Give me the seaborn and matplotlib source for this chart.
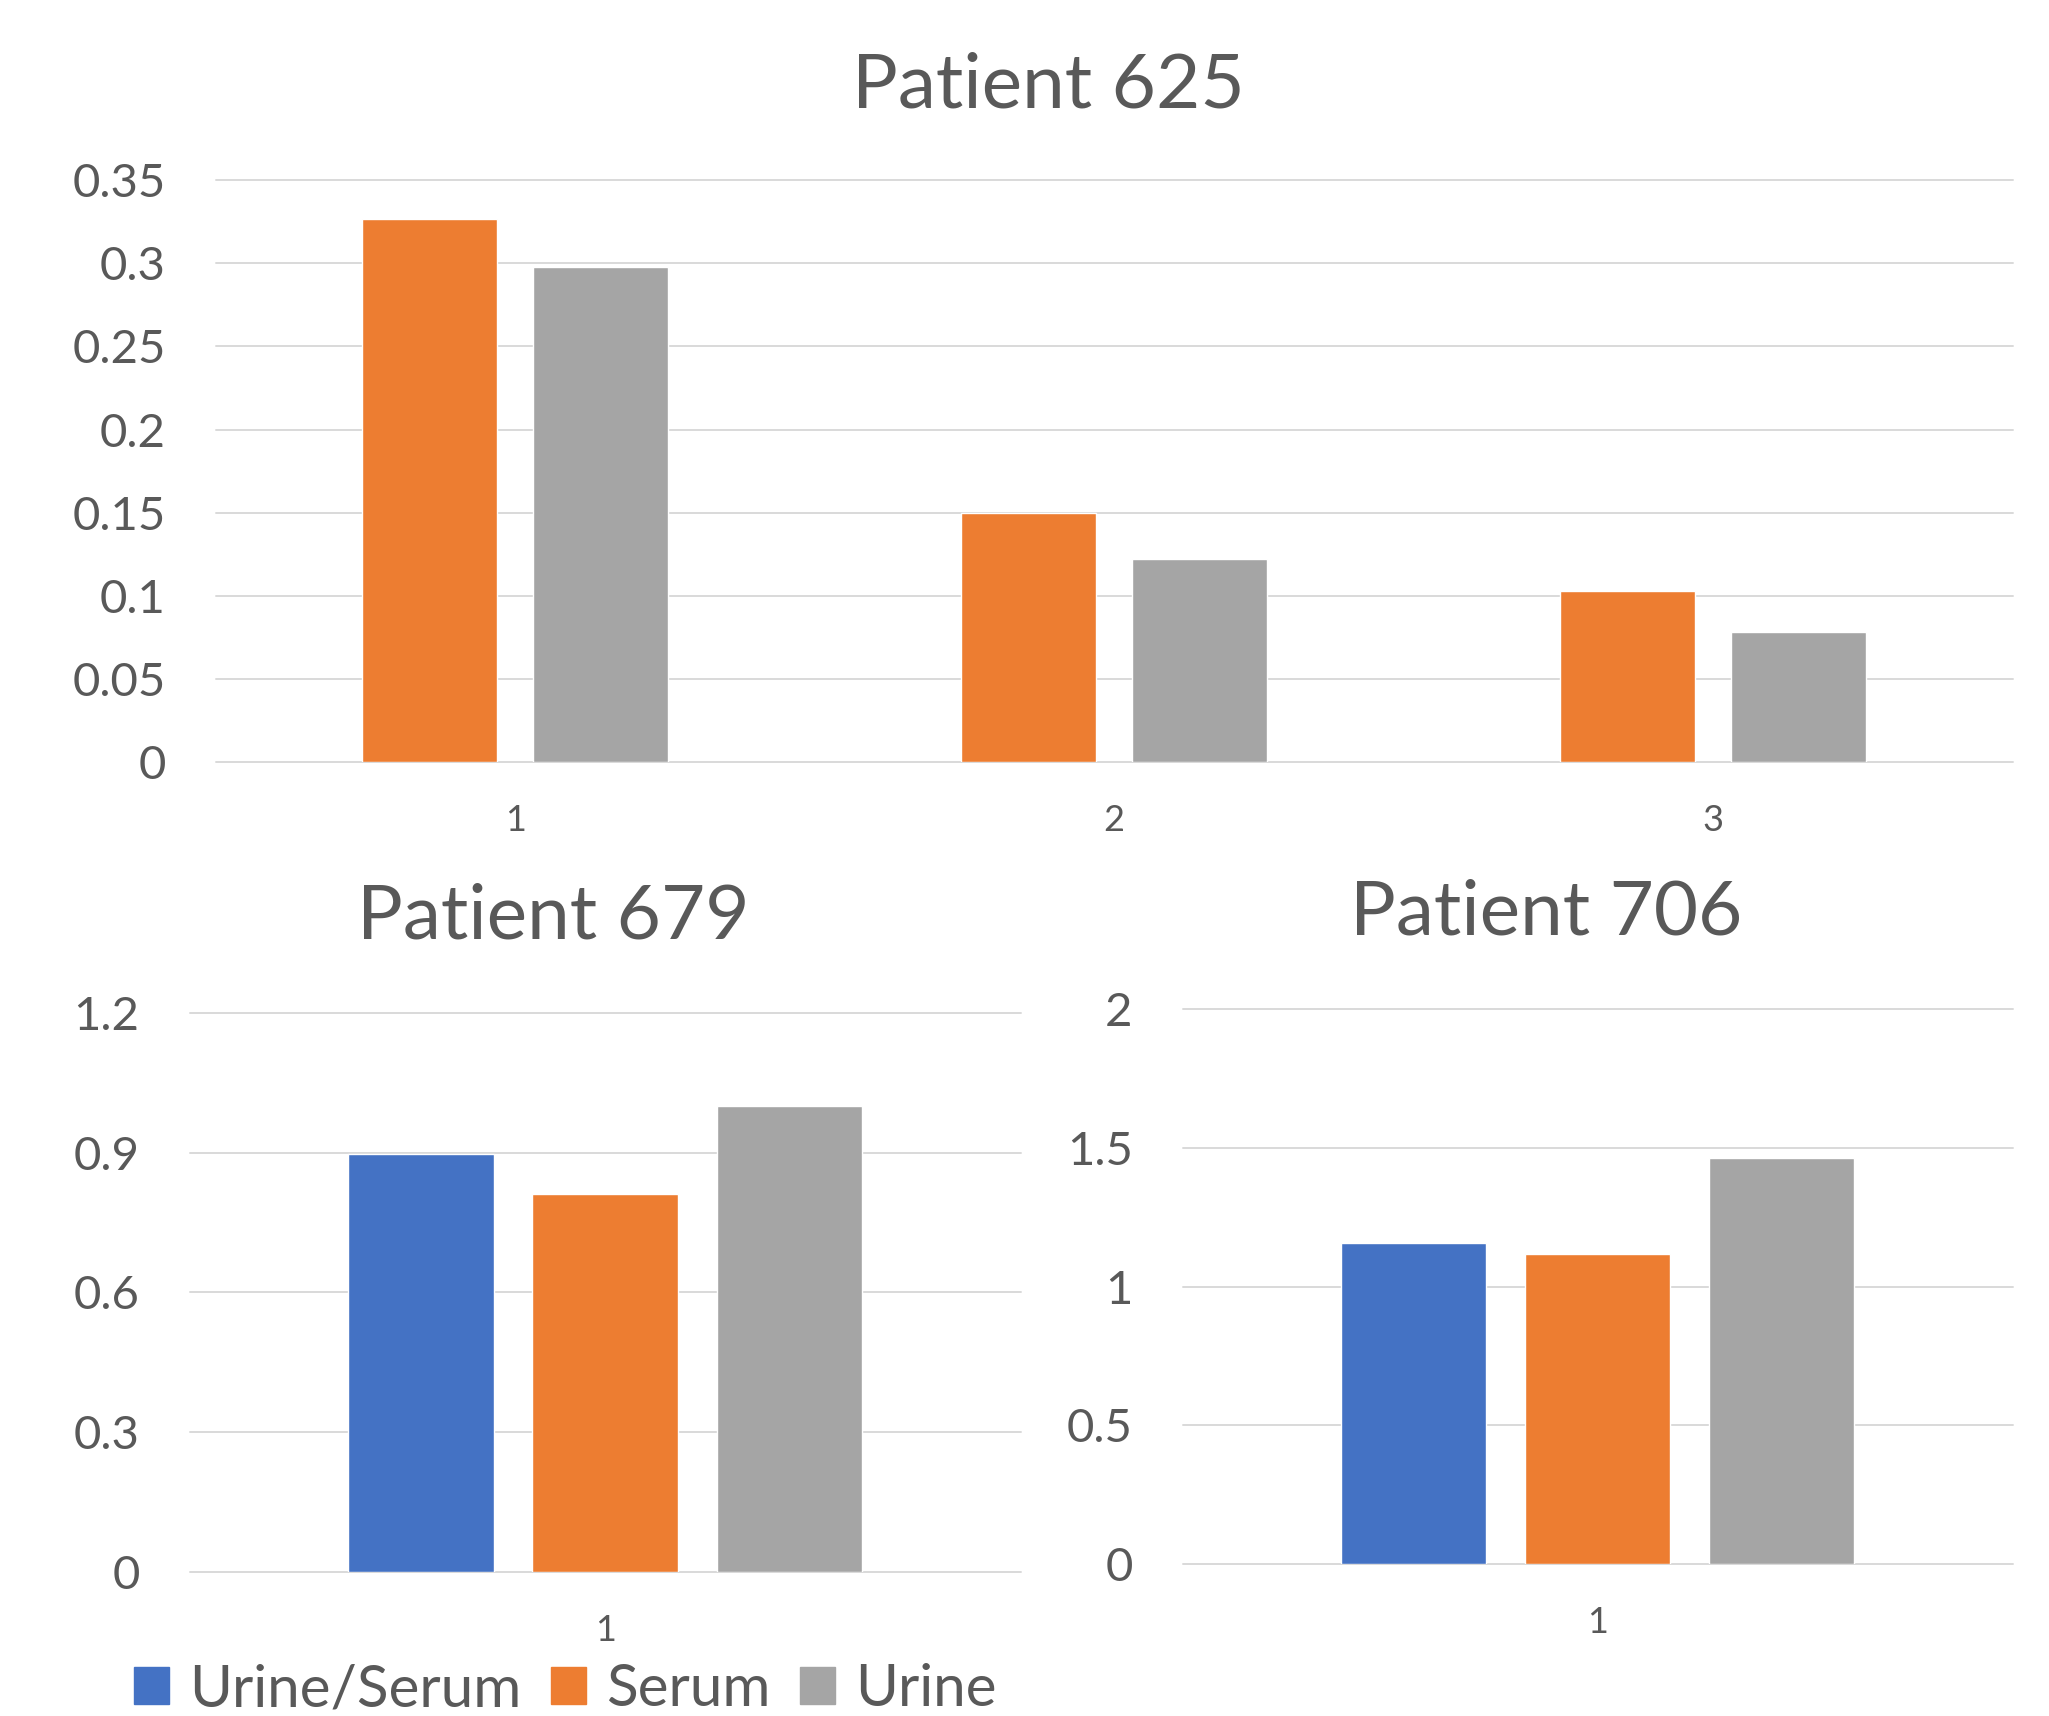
import matplotlib
matplotlib.use('Agg')
import matplotlib.pyplot as plt
import matplotlib.patches as mpatches
import seaborn as sns
import pandas as pd

# 数据
series_names = ['Urine/Serum', 'Serum', 'Urine']
series_colors = ['#4472C4', '#ED7D31', '#A5A5A5']

p625_days = ['1', '2', '3']
p625_serum = [0.327, 0.150, 0.103]
p625_urine = [0.298, 0.122, 0.078]

p679_days = ['1']
p679_ratio = [0.898]
p679_serum = [0.812]
p679_urine = [0.999]

p706_days = ['1']
p706_ratio = [1.156]
p706_serum = [1.117]
p706_urine = [1.462]

p625_ticks = [0, 0.05, 0.1, 0.15, 0.2, 0.25, 0.3, 0.35]
p679_ticks = [0, 0.3, 0.6, 0.9, 1.2]
p706_ticks = [0, 0.5, 1, 1.5, 2]

palette = dict(zip(series_names, series_colors))
text_color = '#595959'
grid_color = '#D9D9D9'

sns.set_theme(style='white')
plt.rcParams['font.family'] = ['Lato', 'DejaVu Sans']


def long_df(days, **cols):
    rows = []
    for name, vals in cols.items():
        for d, v in zip(days, vals):
            rows.append({'Day': d, 'Series': name, 'Value': v})
    return pd.DataFrame(rows)


df625 = long_df(p625_days, **{'Serum': p625_serum, 'Urine': p625_urine})
df679 = long_df(p679_days, **{'Urine/Serum': p679_ratio, 'Serum': p679_serum, 'Urine': p679_urine})
df706 = long_df(p706_days, **{'Urine/Serum': p706_ratio, 'Serum': p706_serum, 'Urine': p706_urine})

W, H = 2049, 1716
fig = plt.figure(figsize=(W / 100, H / 100), dpi=100)


def px_axes(l, t, r, b):
    return fig.add_axes([l / W, 1 - b / H, (r - l) / W, (b - t) / H])


ax1 = px_axes(215.6, 180.3, 2012.5, 761.9)
ax2 = px_axes(189.5, 1012.8, 1020.6, 1572.1)
ax3 = px_axes(1182.7, 1008.9, 2012.5, 1564.2)

sns.barplot(data=df625, x='Day', y='Value', hue='Series', hue_order=['Serum', 'Urine'],
            palette=palette, width=0.572, gap=0.21, legend=False, ax=ax1, saturation=1)
sns.barplot(data=df679, x='Day', y='Value', hue='Series', hue_order=series_names,
            palette=palette, width=0.665, gap=0.21, legend=False, ax=ax2, saturation=1)
sns.barplot(data=df706, x='Day', y='Value', hue='Series', hue_order=series_names,
            palette=palette, width=0.665, gap=0.21, legend=False, ax=ax3, saturation=1)

for ax, ticks in [(ax1, p625_ticks), (ax2, p679_ticks), (ax3, p706_ticks)]:
    ax.set_ylim(ticks[0], ticks[-1])
    ax.set_yticks(ticks)
    ax.set_yticklabels([f'{t:g}' for t in ticks])
    ax.set_xlabel('')
    ax.set_ylabel('')
    for s in ax.spines.values():
        s.set_visible(False)
    ax.yaxis.grid(True, color=grid_color, linewidth=1.4)
    ax.set_axisbelow(True)
    ax.tick_params(axis='y', length=0, pad=36, labelsize=34, labelcolor=text_color)
    ax.tick_params(axis='x', length=0, pad=30, labelsize=26, labelcolor=text_color)
    for gl in ax.get_ygridlines():
        gl.set_clip_on(False)

# 标题
fig.text(1048 / W, 1 - 86 / H, 'Patient 625', ha='center', va='center', fontsize=55, color=text_color)
fig.text(553 / W, 1 - 917 / H, 'Patient 679', ha='center', va='center', fontsize=55, color=text_color)
fig.text(1546 / W, 1 - 913 / H, 'Patient 706', ha='center', va='center', fontsize=55, color=text_color)

# 图例
handles = [mpatches.Patch(color=c) for c in series_colors]
fig.legend(handles, series_names, loc='center left', bbox_to_anchor=(134 / W, 1 - 1690 / H),
           ncol=3, frameon=False, fontsize=42, labelcolor=text_color, handlelength=0.6,
           handleheight=0.6, handletextpad=0.35, columnspacing=0.5, borderpad=0, borderaxespad=0)

plt.savefig('out.png', dpi=100)
plt.close()
